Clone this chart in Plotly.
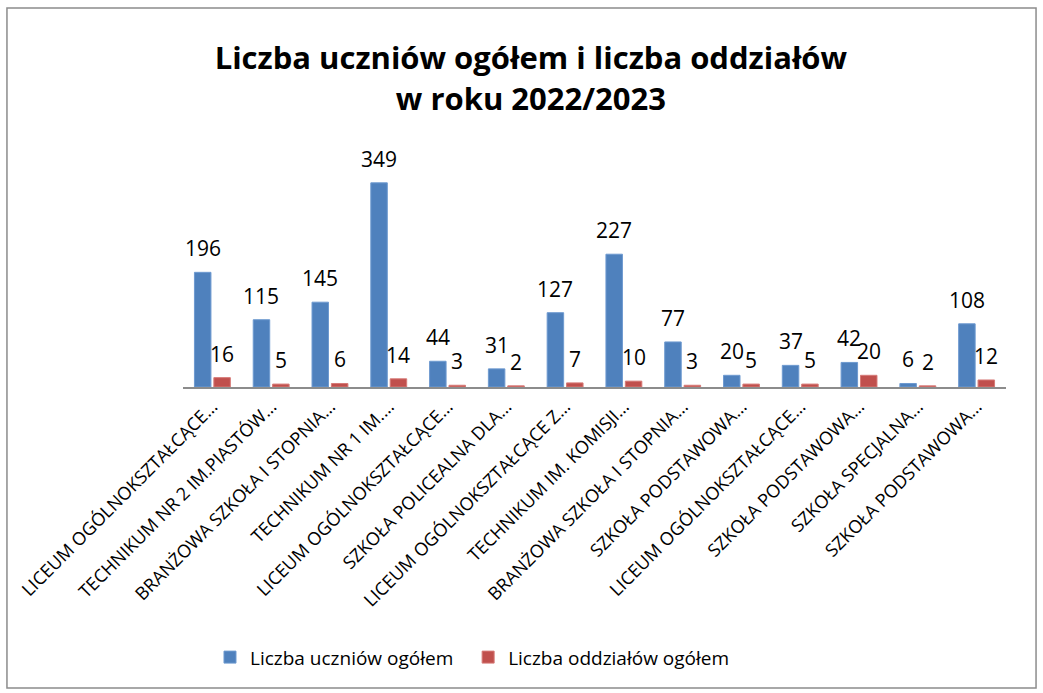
"""Bar chart: uczniowie i oddziały 2022/2023."""
import plotly.graph_objects as go

szkoly = [
    "LICEUM OGÓLNOKSZTAŁCĄCE…",
    "TECHNIKUM NR 2 IM.PIASTÓW…",
    "BRANŻOWA SZKOŁA I STOPNIA…",
    "TECHNIKUM NR 1 IM.…",
    "LICEUM OGÓLNOKSZTAŁCĄCE…",
    "SZKOŁA POLICEALNA DLA…",
    "LICEUM OGÓLNOKSZTAŁCĄCE Z…",
    "TECHNIKUM IM. KOMISJI…",
    "BRANŻOWA SZKOŁA I STOPNIA…",
    "SZKOŁA PODSTAWOWA…",
    "LICEUM OGÓLNOKSZTAŁCĄCE…",
    "SZKOŁA PODSTAWOWA…",
    "SZKOŁA SPECJALNA…",
    "SZKOŁA PODSTAWOWA…",
]
uczniowie = [196, 115, 145, 349, 44, 31, 127, 227, 77, 20, 37, 42, 6, 108]
oddzialy = [16, 5, 6, 14, 3, 2, 7, 10, 3, 5, 5, 20, 2, 12]

# categories repeat, so plot on index and label ticks
idx = list(range(len(szkoly)))

FONT = "Open Sans"
BARGAP = 0.34
HALF = (1 - BARGAP) / 4  # centre of each bar relative to category

fig = go.Figure()
fig.add_trace(go.Bar(
    x=idx, y=uczniowie,
    name="Liczba uczniów ogółem\u00a0\u00a0",  # wider legend gap
    marker=dict(color="#4F81BD", line=dict(color="#6E9AD0", width=1)),
))
fig.add_trace(go.Bar(
    x=idx, y=oddzialy, name="Liczba oddziałów ogółem",
    marker=dict(color="#C0504D", line=dict(color="#D67A77", width=1)),
))

# value labels a bit higher above the bars than plotly's outside text
for i in idx:
    for val, dx in ((uczniowie[i], -HALF), (oddzialy[i], HALF)):
        fig.add_annotation(
            x=i + dx, y=val, text=str(val), showarrow=False,
            yanchor="bottom", yshift=8, font=dict(size=21, color="black"),
        )

fig.update_layout(
    width=1043, height=693,
    paper_bgcolor="white", plot_bgcolor="white",
    font=dict(family=FONT, color="black"),
    margin=dict(l=183, r=37, t=153, b=306),
    barmode="group", bargap=BARGAP, bargroupgap=0.15,
    title=dict(
        text="<b>Liczba uczniów ogółem i liczba oddziałów<br>w roku 2022/2023</b>",
        x=0.509, xref="container", xanchor="center",
        y=0.90, yanchor="top",
        font=dict(size=31, family=FONT),
    ),
    legend=dict(
        orientation="h", x=0.0328, xanchor="left", xref="paper",
        y=-1.155, yanchor="middle",
        font=dict(size=19), itemwidth=30,
    ),
    showlegend=True,
)
fig.update_xaxes(
    tickmode="array", tickvals=idx, ticktext=szkoly,
    tickangle=-45, tickfont=dict(size=18),
    showline=True, linecolor="#8c8c8c", linewidth=2,
    ticks="", showgrid=False, range=[-0.5, len(szkoly) - 0.5],
    automargin=False,
)
fig.update_yaxes(visible=False, range=[0, 400])

# outer chart frame
fig.add_shape(
    type="rect", xref="paper", yref="paper",
    x0=-0.2139, x1=1.0365, y0=-1.286, y1=1.6197,
    line=dict(color="#8c8c8c", width=1.5),
)

fig.write_html(
    "out.html",
    config={"displayModeBar": False},
    post_script="document.body.style.margin='0';",
)
